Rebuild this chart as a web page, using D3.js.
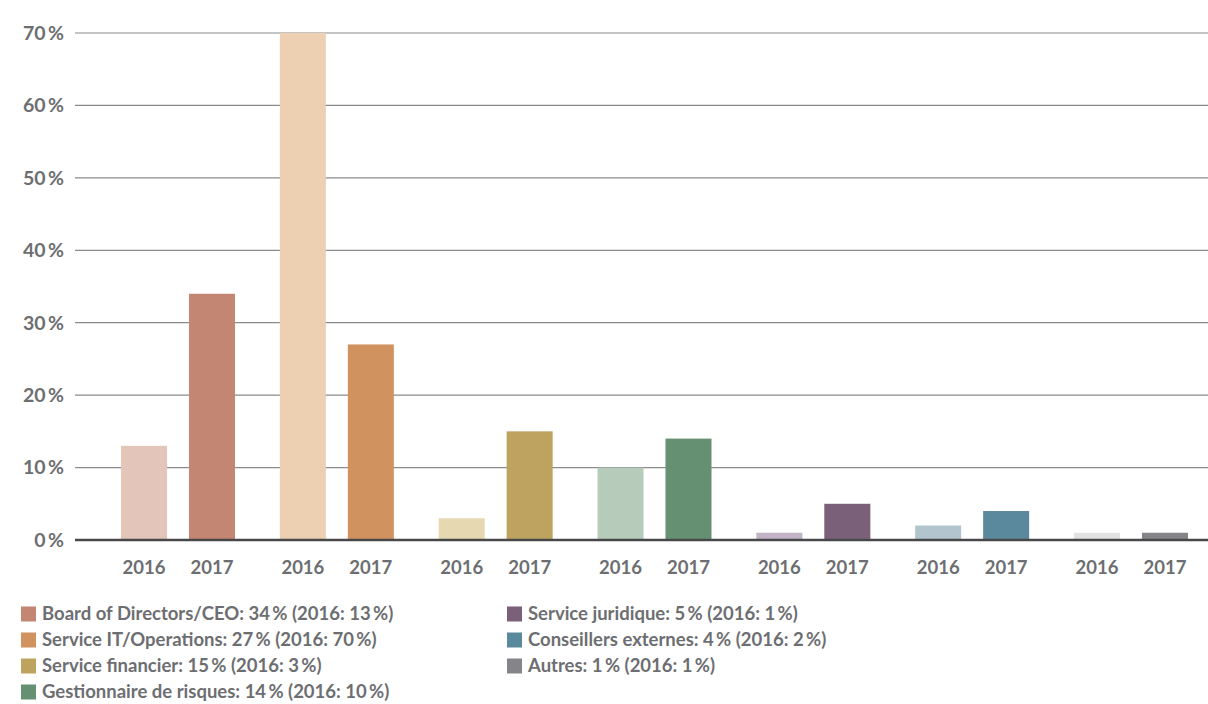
<!DOCTYPE html>
<html>
<head>
<meta charset="utf-8">
<script src="https://cdn.jsdelivr.net/npm/d3@7"></script>
<style>
  html, body { margin: 0; padding: 0; background: #fff; }
  svg { display: block; font-family: Lato, "Open Sans", sans-serif; font-weight: 700; }
</style>
</head>
<body>
<svg id="chart" width="1208" height="704"></svg>
<script>
// Categories, years and values (percent)
const categories = ["Board of Directors/CEO", "Service IT/Operations", "Service financier",
  "Gestionnaire de risques", "Service juridique", "Conseillers externes", "Autres"];
const years = ["2016", "2017"];
const values2016 = [13, 70, 3, 10, 1, 2, 1];
const values2017 = [34, 27, 15, 14, 5, 4, 1];
const colors2016 = ["#e3c5b9", "#edcfb2", "#e6d8b0", "#b7cbbb", "#c2b3c6", "#b2c4ce", "#e2e2e2"];
const colors2017 = ["#c28673", "#d0925f", "#bda35f", "#659172", "#7a6079", "#5a889d", "#858589"];
const yTicks = [0, 10, 20, 30, 40, 50, 60, 70];

const svg = d3.select("#chart");
const textColor = "#6d6e71";

const y = d3.scaleLinear().domain([0, 70]).range([540, 33]);
const x0 = d3.scaleBand().domain(categories).range([98.6, 1210.4]).padding(0);
const x1 = d3.scaleBand().domain(years).range([-57, 57]).paddingInner(0.323).paddingOuter(0);

// Gridlines
svg.append("g")
  .selectAll("line")
  .data(yTicks.filter(d => d > 0))
  .join("line")
  .attr("x1", 75).attr("x2", 1208)
  .attr("y1", d => y(d)).attr("y2", d => y(d))
  .attr("stroke", "#8a8a8c").attr("stroke-width", 1.2);

// Y tick labels
svg.append("g")
  .selectAll("text")
  .data(yTicks)
  .join("text")
  .attr("x", 64).attr("y", d => y(d))
  .attr("dy", "0.35em")
  .attr("text-anchor", "end")
  .attr("fill", textColor)
  .attr("font-size", 19.5)
  .text(d => d + "\u2009%");

// Bars
const rows = categories.map((c, i) => ({ cat: c, i,
  bars: [{ year: "2016", v: values2016[i], color: colors2016[i] },
         { year: "2017", v: values2017[i], color: colors2017[i] }] }));

const groups = svg.append("g").selectAll("g")
  .data(rows).join("g")
  .attr("transform", d => `translate(${x0(d.cat) + x0.bandwidth() / 2},0)`);

groups.selectAll("rect")
  .data(d => d.bars).join("rect")
  .attr("x", d => x1(d.year))
  .attr("width", x1.bandwidth())
  .attr("y", d => y(d.v))
  .attr("height", d => y(0) - y(d.v))
  .attr("fill", d => d.color);

groups.selectAll("text")
  .data(d => d.bars).join("text")
  .attr("x", d => x1(d.year) + x1.bandwidth() / 2)
  .attr("y", 573.5)
  .attr("text-anchor", "middle")
  .attr("fill", textColor)
  .attr("font-size", 18.5)
  .text(d => d.year);

// Baseline
svg.append("line")
  .attr("x1", 75).attr("x2", 1208)
  .attr("y1", y(0)).attr("y2", y(0))
  .attr("stroke", "#48484a").attr("stroke-width", 2.5);

// Legend
const legendItems = categories.map((c, i) => ({
  label: `${c}: ${values2017[i]}\u2009% (2016: ${values2016[i]}\u2009%)`,
  color: colors2017[i],
  col: i < 4 ? 0 : 1,
  row: i < 4 ? i : i - 4
}));
const legend = svg.append("g").selectAll("g")
  .data(legendItems).join("g")
  .attr("transform", d => `translate(${d.col === 0 ? 21 : 507},${614 + d.row * 26})`);
legend.append("rect")
  .attr("x", 0).attr("y", -7.5).attr("width", 15).attr("height", 15)
  .attr("fill", d => d.color);
legend.append("text")
  .attr("x", 21).attr("y", 0).attr("dy", "0.35em")
  .attr("fill", textColor)
  .attr("font-size", 18.5)
  .text(d => d.label);
</script>
</body>
</html>
